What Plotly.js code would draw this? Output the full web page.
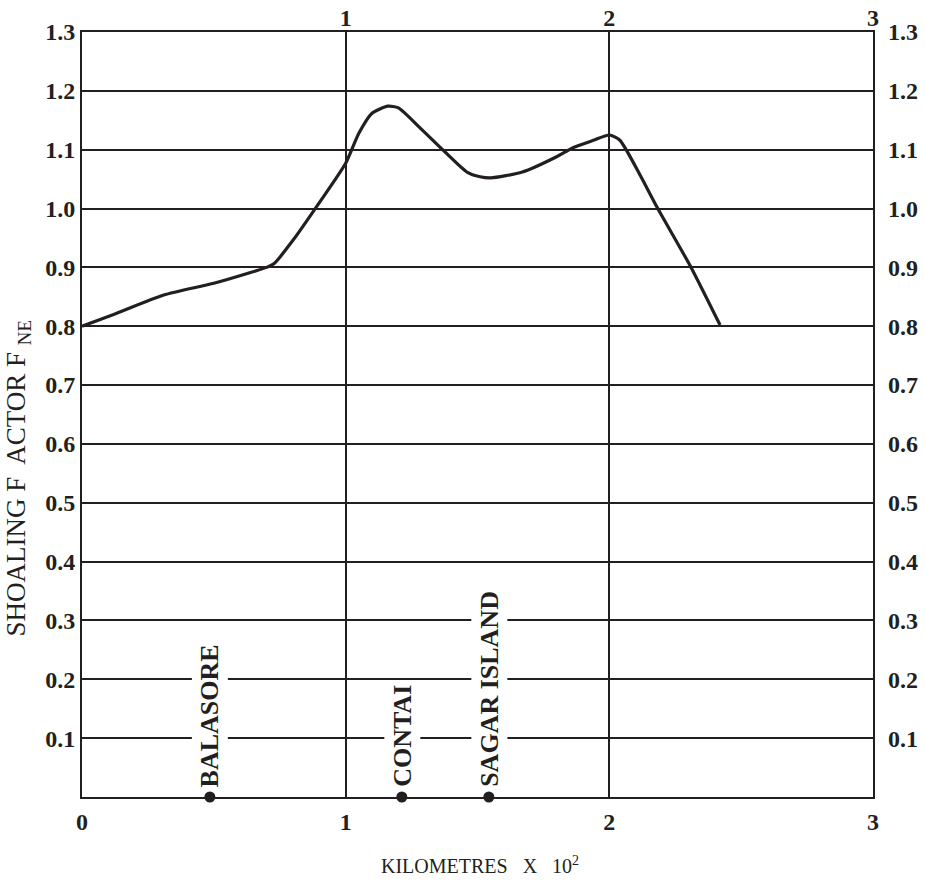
<!DOCTYPE html>
<html>
<head>
<meta charset="utf-8">
<script src="https://cdn.plot.ly/plotly-3.0.1.min.js"></script>
<style>html,body{margin:0;padding:0;background:#fff;}#chart{width:925px;height:893px;}</style>
</head>
<body>
<div id="chart"></div>
<script>
// Shoaling factor curve (distance in km x 10^2)
const distance = [0, 0.12, 0.31, 0.50, 0.63, 0.70, 0.73, 0.80, 0.88, 1.00, 1.05, 1.10, 1.16, 1.20, 1.28, 1.37, 1.46, 1.51, 1.55, 1.67, 1.80, 1.86, 1.94, 2.00, 2.04, 2.12, 2.18, 2.31, 2.42];
const shoaling = [0.80, 0.82, 0.853, 0.873, 0.89, 0.90, 0.907, 0.946, 0.997, 1.077, 1.128, 1.162, 1.174, 1.171, 1.138, 1.099, 1.062, 1.054, 1.052, 1.062, 1.088, 1.103, 1.116, 1.125, 1.116, 1.054, 1.003, 0.90, 0.802];

// Places along the coast
const placeNames = ["BALASORE", "CONTAI", "SAGAR ISLAND"];
const placeX = [0.485, 1.213, 1.543];
const placeY = [0, 0, 0];

// Tick labels
const yTicks = [0.1, 0.2, 0.3, 0.4, 0.5, 0.6, 0.7, 0.8, 0.9, 1.0, 1.1, 1.2, 1.3];
const yTickText = ["0.1", "0.2", "0.3", "0.4", "0.5", "0.6", "0.7", "0.8", "0.9", "1.0", "1.1", "1.2", "1.3"];
const xTicksBottom = [0, 1, 2, 3];
const xTicksTop = [1, 2, 3];

const ink = "#231f20";
const serif = "Liberation Serif, Times New Roman, serif";

const traces = [
  {
    x: distance, y: shoaling, type: "scatter", mode: "lines",
    line: {color: ink, width: 3.2, shape: "spline", smoothing: 0.6},
    hoverinfo: "skip", showlegend: false, cliponaxis: false
  },
  {
    x: distance, y: shoaling, xaxis: "x2", yaxis: "y2", type: "scatter", mode: "lines",
    line: {color: "rgba(0,0,0,0)", width: 0}, hoverinfo: "skip", showlegend: false
  },
  {
    x: placeX, y: placeY, type: "scatter", mode: "markers",
    marker: {color: ink, size: 11}, hoverinfo: "skip", showlegend: false, cliponaxis: false
  }
];

const annotations = placeNames.map((name, i) => ({
  x: placeX[i], y: placeY[i], xref: "x", yref: "y",
  text: "<b>" + name + "</b>", showarrow: false, textangle: -90,
  xanchor: "center", yanchor: "bottom", yshift: 6,
  bgcolor: "#ffffff", borderpad: 3,
  font: {family: serif, size: 26, color: ink}
}));

annotations.push({
  xref: "paper", yref: "paper", x: -0.081, y: 0.4176,
  text: "SHOALING F  ACTOR F <sub>NE</sub>", showarrow: false, textangle: -90,
  xanchor: "center", yanchor: "middle",
  font: {family: serif, size: 27, color: ink}
});

annotations.push({
  xref: "paper", yref: "paper", x: 0.503, y: -0.0889,
  text: "KILOMETRES   X   10<sup>2</sup>", showarrow: false,
  xanchor: "center", yanchor: "middle",
  font: {family: serif, size: 20, color: ink}
});

const tickFont = {family: serif, size: 24, color: ink, weight: "bold"};

const layout = {
  width: 925, height: 893,
  margin: {l: 82, r: 52, t: 32, b: 96},
  paper_bgcolor: "#ffffff", plot_bgcolor: "#ffffff",
  showlegend: false,
  xaxis: {
    range: [0, 3], tickvals: xTicksBottom, ticktext: xTicksBottom.map(String),
    showgrid: true, gridcolor: ink, gridwidth: 2,
    showline: true, linecolor: ink, linewidth: 2, mirror: true,
    zeroline: false, ticks: "", tickfont: tickFont, ticklabelstandoff: 2
  },
  xaxis2: {
    range: [0, 3], overlaying: "x", side: "top", anchor: "y2",
    tickvals: xTicksTop, ticktext: xTicksTop.map(String),
    showgrid: false, showline: false, zeroline: false, ticks: "", tickfont: tickFont
  },
  yaxis: {
    range: [0, 1.3], tickvals: yTicks, ticktext: yTickText,
    showgrid: true, gridcolor: ink, gridwidth: 2,
    showline: true, linecolor: ink, linewidth: 2, mirror: true,
    zeroline: false, ticks: "", tickfont: tickFont
  },
  yaxis2: {
    range: [0, 1.3], overlaying: "y", side: "right", anchor: "x2",
    tickvals: yTicks, ticktext: yTickText,
    showgrid: false, showline: false, zeroline: false, ticks: "", tickfont: tickFont,
    ticklabelstandoff: 14
  },
  annotations: annotations
};

Plotly.newPlot("chart", traces, layout, {staticPlot: true, displayModeBar: false});
</script>
</body>
</html>
